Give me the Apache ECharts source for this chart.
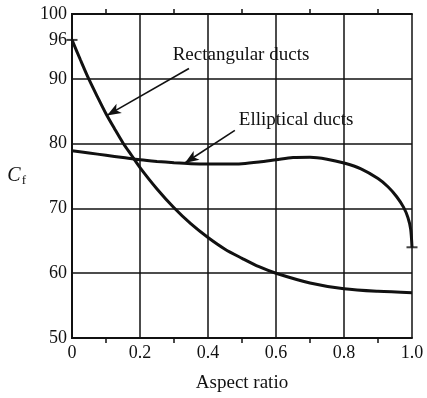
<!DOCTYPE html>
<html>
<head>
<meta charset="utf-8">
<script src="https://cdn.jsdelivr.net/npm/echarts@6/dist/echarts.min.js"></script>
<style>
html,body{margin:0;padding:0;background:#fff;}
#chart{width:427px;height:398px;}
</style>
</head>
<body>
<div id="chart"></div>
<script>
// Aspect ratio (x) vs C_f (y)
const rectAspect = [0, 0.025, 0.05, 0.075, 0.1, 0.125, 0.15, 0.175, 0.2, 0.25, 0.3, 0.35, 0.4, 0.45, 0.5, 0.55, 0.6, 0.7, 0.8, 0.9, 1.0];
const rectCf     = [96, 92.9, 89.9, 87.2, 84.6, 82.3, 80.1, 78.2, 76.3, 73.0, 70.1, 67.6, 65.5, 63.7, 62.3, 61.0, 60.0, 58.5, 57.6, 57.2, 57.0];

const ellAspect = [0, 0.05, 0.1, 0.15, 0.2, 0.25, 0.3, 0.35, 0.4, 0.45, 0.5, 0.55, 0.6, 0.65, 0.7, 0.75, 0.8, 0.85, 0.9, 0.93, 0.955, 0.975, 0.988, 0.996, 1.0];
const ellCf     = [78.9, 78.55, 78.2, 77.85, 77.5, 77.25, 77.05, 76.9, 76.85, 76.85, 76.9, 77.15, 77.5, 77.85, 77.9, 77.6, 77.0, 76.1, 74.6, 73.3, 71.8, 70.2, 68.6, 66.8, 64.0];

// end markers (small crossing ticks) at the curve ends on the frame
const endMarkX = [0, 1.0];
const endMarkY = [96, 64];

const xTicks = [0, 0.2, 0.4, 0.6, 0.8, 1.0];
const yTicks = [50, 60, 70, 80, 90, 100];
const yExtraLabel = 96;

// annotations: text anchor and arrow (data coordinates)
const annoText  = ['Rectangular ducts', 'Elliptical ducts'];
const annoAt    = [[0.497, 93.6], [0.659, 83.6]];
const arrowFrom = [[0.344, 91.6], [0.479, 82.05]];
const arrowTo   = [[0.103, 84.35], [0.332, 77.0]];

const FONT = 'Liberation Serif';
const INK = '#111';

const zip = (a, b) => a.map((v, i) => [v, b[i]]);

const chart = echarts.init(document.getElementById('chart'), null, {renderer: 'canvas'});

function annoSeries(i) {
  return {
    markLine: {
      silent: true, symbol: ['none', 'arrow'], symbolSize: [8, 14],
      lineStyle: {color: INK, width: 1.6, type: 'solid'},
      label: {show: false},
      data: [[{coord: arrowFrom[i]}, {coord: arrowTo[i]}]]
    },
    markPoint: {
      silent: true, symbol: 'rect', symbolSize: 1,
      itemStyle: {color: 'rgba(0,0,0,0)'},
      label: {show: true, position: 'inside', fontFamily: FONT, fontSize: 19, color: INK, formatter: annoText[i]},
      data: [{coord: annoAt[i]}]
    }
  };
}

const option = {
  backgroundColor: '#fff',
  animation: false,
  textStyle: {fontFamily: FONT, color: INK},
  grid: {left: 72, right: 15, top: 14, bottom: 55, containLabel: false},
  xAxis: [
    {
      type: 'value', min: 0, max: 1, interval: 0.2, position: 'bottom',
      name: 'Aspect ratio', nameLocation: 'middle', nameGap: 36,
      nameTextStyle: {fontFamily: FONT, fontSize: 19, color: INK},
      axisLine: {show: true, lineStyle: {color: INK, width: 2}},
      axisTick: {show: false},
      minorTick: {show: true, splitNumber: 2, length: 5, lineStyle: {color: INK, width: 1.5}},
      axisLabel: {
        fontFamily: FONT, fontSize: 18, color: INK, margin: 6,
        formatter: v => (xTicks.some(t => Math.abs(t - v) < 1e-9) ? (v === 0 ? '0' : v.toFixed(1)) : '')
      },
      splitLine: {show: true, lineStyle: {color: INK, width: 1.5}},
      minorSplitLine: {show: false}
    },
    {
      type: 'value', min: 0, max: 1, interval: 0.2, position: 'top',
      axisLine: {show: true, lineStyle: {color: INK, width: 2}},
      axisTick: {show: false},
      minorTick: {show: true, splitNumber: 2, length: 5, lineStyle: {color: INK, width: 1.5}},
      axisLabel: {show: false},
      splitLine: {show: false}
    }
  ],
  yAxis: [
    {
      type: 'value', min: 50, max: 100, interval: 2, position: 'left',
      name: '{c|C}{s|f}', nameLocation: 'middle', nameRotate: 0, nameGap: 46,
      nameTextStyle: {
        rich: {
          c: {fontFamily: FONT, fontSize: 20, fontStyle: 'italic', color: INK},
          s: {fontFamily: FONT, fontSize: 13, color: INK, padding: [9, 0, 0, 1]}
        }
      },
      axisLine: {show: true, lineStyle: {color: INK, width: 2}},
      axisTick: {show: false},
      axisLabel: {
        fontFamily: FONT, fontSize: 18, color: INK, margin: 5,
        formatter: v => ((yTicks.indexOf(v) >= 0 || v === yExtraLabel) ? String(v) : '')
      },
      splitLine: {show: false}
    },
    {
      type: 'value', min: 50, max: 100, interval: 10, position: 'right',
      axisLine: {show: true, lineStyle: {color: INK, width: 2}},
      axisTick: {show: false},
      axisLabel: {show: false},
      splitLine: {show: true, lineStyle: {color: INK, width: 1.5}}
    }
  ],
  series: [
    Object.assign({
      name: 'Rectangular ducts', type: 'line', xAxisIndex: 0, yAxisIndex: 0,
      data: zip(rectAspect, rectCf), smooth: 0.3,
      showSymbol: false, lineStyle: {color: INK, width: 3}, z: 5
    }, annoSeries(0)),
    Object.assign({
      name: 'Elliptical ducts', type: 'line', xAxisIndex: 0, yAxisIndex: 0,
      data: zip(ellAspect, ellCf), smooth: 0.3,
      showSymbol: false, lineStyle: {color: INK, width: 3}, z: 5
    }, annoSeries(1)),
    {
      name: 'ends', type: 'scatter', xAxisIndex: 0, yAxisIndex: 0,
      data: zip(endMarkX, endMarkY), symbol: 'rect', symbolSize: [11, 2],
      itemStyle: {color: INK}, clip: false, z: 6, silent: true
    }
  ]
};

chart.setOption(option);
</script>
</body>
</html>
